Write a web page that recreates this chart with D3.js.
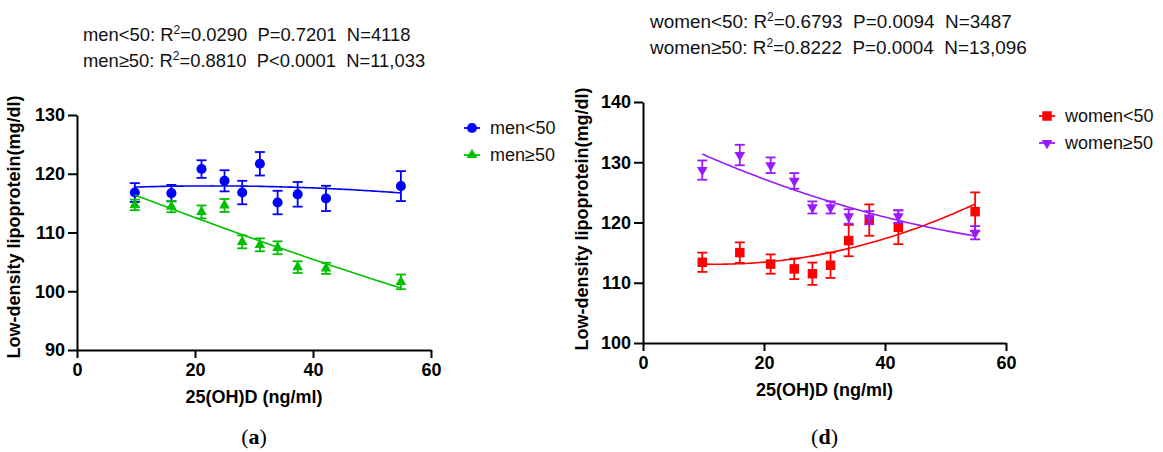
<!DOCTYPE html>
<html>
<head>
<meta charset="utf-8">
<script src="https://cdn.jsdelivr.net/npm/d3@7"></script>
<style>
  body { margin: 0; background: #fff; }
  svg { display: block; font-family: "Liberation Sans", Arial, sans-serif; }
</style>
</head>
<body>
<div id="chart"></div>
<script>
// 25(OH)D group means (ng/ml), shared by all series
const vitD = [9.8, 16, 21.1, 25, 28, 31, 34, 37.4, 42.2, 54.9];

const menUnder50 = [116.8, 116.7, 120.8, 118.8, 116.8, 121.7, 115.1, 116.5, 115.8, 117.9];
const menUnder50Err = [1.6, 1.4, 1.5, 1.8, 2.0, 2.0, 2.0, 2.1, 2.15, 2.55];
const menOver50 = [114.7, 114.4, 113.5, 114.6, 108.4, 107.9, 107.4, 104.1, 103.9, 101.6];
const menOver50Err = [0.9, 0.95, 1.1, 1.1, 1.1, 1.1, 1.1, 1.0, 0.95, 1.25];

const womenUnder50 = [113.4, 115.0, 113.1, 112.3, 111.5, 112.9, 117.0, 120.4, 119.2, 121.8];
const womenUnder50Err = [1.6, 1.7, 1.6, 1.7, 1.85, 2.1, 2.6, 2.6, 2.8, 3.2];
const womenOver50 = [128.7, 131.2, 129.5, 126.9, 122.5, 122.5, 121.0, 120.8, 121.0, 118.3];
const womenOver50Err = [1.6, 1.7, 1.3, 1.3, 1.0, 1.0, 1.2, 1.1, 1.05, 1.1];

const xTicks = [0, 20, 40, 60];
const menYTicks = [90, 100, 110, 120, 130];
const womenYTicks = [100, 110, 120, 130, 140];

const menStats = [
  ['men<50: R', '=0.0290  P=0.7201  N=4118'],
  ['men\u226550: R', '=0.8810  P<0.0001  N=11,033']
];
const womenStats = [
  ['women<50: R', '=0.6793  P=0.0094  N=3487'],
  ['women\u226550: R', '=0.8222  P=0.0004  N=13,096']
];

const width = 1163;
const height = 452;

const svg = d3.select('#chart')
  .append('svg')
  .attr('width', width)
  .attr('height', height);

// second order polynomial least squares, like the prism fit
function quadFit(xs, ys) {
  const n = xs.length;
  let s = [0, 0, 0, 0, 0], t = [0, 0, 0];
  for (let i = 0; i < n; i++) {
    let p = 1;
    for (let k = 0; k < 5; k++) { s[k] += p; p *= xs[i]; }
    p = 1;
    for (let k = 0; k < 3; k++) { t[k] += p * ys[i]; p *= xs[i]; }
  }
  const A = [[s[0], s[1], s[2], t[0]], [s[1], s[2], s[3], t[1]], [s[2], s[3], s[4], t[2]]];
  for (let c = 0; c < 3; c++) {
    for (let r = c + 1; r < 3; r++) {
      const f = A[r][c] / A[c][c];
      for (let k = c; k < 4; k++) A[r][k] -= f * A[c][k];
    }
  }
  const b = [0, 0, 0];
  for (let r = 2; r >= 0; r--) {
    let v = A[r][3];
    for (let k = r + 1; k < 3; k++) v -= A[r][k] * b[k];
    b[r] = v / A[r][r];
  }
  return x => b[0] + b[1] * x + b[2] * x * x;
}

function panel(cfg) {
  const x = d3.scaleLinear().domain([0, 60]).range(cfg.xRange);
  const y = d3.scaleLinear().domain(cfg.yDomain).range(cfg.yRange);
  const g = svg.append('g');

  // axes
  g.append('g')
    .attr('transform', `translate(0, ${cfg.yRange[0]})`)
    .call(d3.axisBottom(x).tickValues(xTicks).tickSize(8).tickPadding(5).tickSizeOuter(0))
    .call(a => a.selectAll('path, line').attr('stroke', '#000').attr('stroke-width', 2))
    .call(a => a.selectAll('text').attr('font-size', '18px').attr('font-weight', 'bold').attr('fill', '#000'));

  g.append('g')
    .attr('transform', `translate(${cfg.xRange[0]}, 0)`)
    .call(d3.axisLeft(y).tickValues(cfg.yTicks).tickSize(9).tickPadding(3).tickSizeOuter(0))
    .call(a => a.selectAll('path, line').attr('stroke', '#000').attr('stroke-width', 2))
    .call(a => a.selectAll('text').attr('font-size', '18px').attr('font-weight', 'bold').attr('fill', '#000'));

  g.append('text')
    .attr('x', (cfg.xRange[0] + cfg.xRange[1]) / 2)
    .attr('y', cfg.yRange[0] + 53)
    .attr('text-anchor', 'middle')
    .attr('font-size', '18px')
    .attr('font-weight', 'bold')
    .text('25(OH)D (ng/ml)');

  g.append('text')
    .attr('transform', `translate(${cfg.yLabelX}, ${cfg.yLabelY}) rotate(-90)`)
    .attr('text-anchor', 'middle')
    .attr('font-size', '18px')
    .attr('font-weight', 'bold')
    .text('Low-density lipoprotein(mg/dl)');

  // stats header
  cfg.stats.forEach((s, i) => {
    const t = g.append('text')
      .attr('x', cfg.statsX)
      .attr('y', cfg.statsY + i * 26)
      .attr('font-size', cfg.statsSize)
      .attr('fill', '#111')
      .style('white-space', 'pre');
    t.append('tspan').text(s[0]);
    t.append('tspan').attr('font-size', '12px').attr('dy', -7).text('2');
    t.append('tspan').attr('dy', 7).text(s[1]);
  });

  cfg.series.forEach((s, si) => {
    const pts = vitD.map((v, i) => ({ x: v, y: s.values[i], e: s.errors[i] }));
    const f = quadFit(vitD, s.values);
    const xs = d3.range(0, 101).map(i => d3.min(vitD) + (d3.max(vitD) - d3.min(vitD)) * i / 100);

    g.append('path')
      .datum(xs)
      .attr('fill', 'none')
      .attr('stroke', s.color)
      .attr('stroke-width', 1.6)
      .attr('d', d3.line().x(d => x(d)).y(d => y(f(d))));

    const eb = g.append('g').attr('stroke', s.color).attr('stroke-width', 1.8);
    eb.selectAll('line.v')
      .data(pts)
      .join('line')
      .attr('x1', d => x(d.x)).attr('x2', d => x(d.x))
      .attr('y1', d => y(d.y - d.e)).attr('y2', d => y(d.y + d.e));
    eb.selectAll('line.t')
      .data(pts)
      .join(enter => enter.append('line').attr('class', 't'))
      .attr('x1', d => x(d.x) - 5).attr('x2', d => x(d.x) + 5)
      .attr('y1', d => y(d.y + d.e)).attr('y2', d => y(d.y + d.e));
    eb.selectAll('line.b')
      .data(pts)
      .join(enter => enter.append('line').attr('class', 'b'))
      .attr('x1', d => x(d.x) - 5).attr('x2', d => x(d.x) + 5)
      .attr('y1', d => y(d.y - d.e)).attr('y2', d => y(d.y - d.e));

    const sym = d3.symbol().type(s.symbol).size(s.size);
    g.append('g')
      .attr('fill', s.color)
      .selectAll('path')
      .data(pts)
      .join('path')
      .attr('transform', d => `translate(${x(d.x)}, ${y(d.y)})${s.flip ? ' rotate(180)' : ''}`)
      .attr('d', sym);

    // legend
    const ly = cfg.legendY + si * 27;
    const lg = g.append('g').attr('transform', `translate(${cfg.legendX}, ${ly})`);
    lg.append('line').attr('x1', -8).attr('x2', 8).attr('stroke', s.color).attr('stroke-width', 1.8);
    lg.append('path').attr('d', sym).attr('fill', s.color)
      .attr('transform', s.flip ? 'rotate(180)' : null);
    lg.append('text')
      .attr('x', 18)
      .attr('dy', '0.35em')
      .attr('font-size', '18px')
      .attr('fill', '#111')
      .text(s.name);
  });

  svg.append('text')
    .attr('x', (cfg.xRange[0] + cfg.xRange[1]) / 2)
    .attr('y', 444)
    .attr('text-anchor', 'middle')
    .attr('font-family', '"Liberation Serif", serif')
    .attr('font-size', '22px')
    .call(t => {
      t.append('tspan').text('(');
      t.append('tspan').attr('font-weight', 'bold').text(cfg.tag);
      t.append('tspan').text(')');
    });
}

panel({
  xRange: [77, 431],
  yDomain: [90, 130],
  yRange: [350, 115],
  yTicks: menYTicks,
  yLabelX: 20, yLabelY: 227,
  statsX: 83, statsY: 41, statsSize: '18.4px',
  stats: menStats,
  legendX: 472, legendY: 128,
  tag: 'a',
  series: [
    { name: 'men<50', values: menUnder50, errors: menUnder50Err, color: '#0000ff', symbol: d3.symbolCircle, size: 80 },
    { name: 'men\u226550', values: menOver50, errors: menOver50Err, color: '#00c000', symbol: d3.symbolTriangle, size: 50 }
  ]
});

panel({
  xRange: [643, 1006],
  yDomain: [100, 140],
  yRange: [343, 102],
  yTicks: womenYTicks,
  yLabelX: 588, yLabelY: 219,
  statsX: 650, statsY: 28, statsSize: '18.9px',
  stats: womenStats,
  legendX: 1047, legendY: 116,
  tag: 'd',
  series: [
    { name: 'women<50', values: womenUnder50, errors: womenUnder50Err, color: '#ff0000', symbol: d3.symbolSquare, size: 90 },
    { name: 'women\u226550', values: womenOver50, errors: womenOver50Err, color: '#9a1aff', symbol: d3.symbolTriangle, size: 50, flip: true }
  ]
});
</script>
</body>
</html>
